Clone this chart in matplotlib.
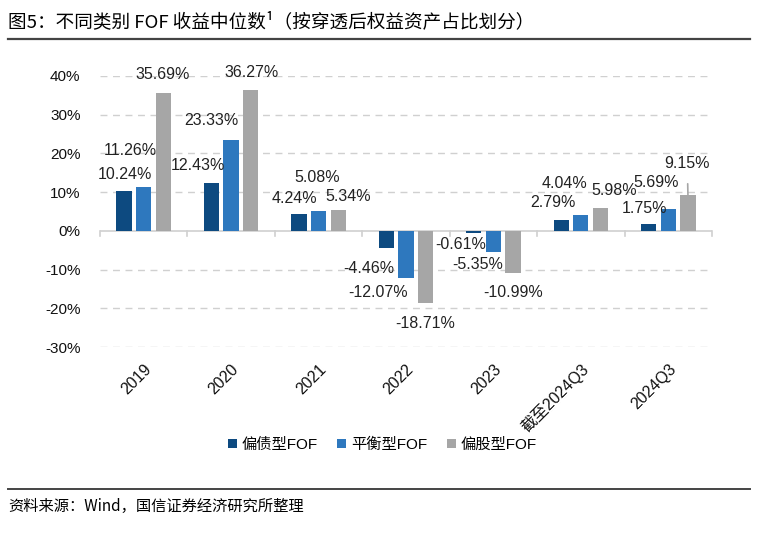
import matplotlib.pyplot as plt
import numpy as np
from matplotlib.lines import Line2D

plt.rcParams["font.family"] = ["Liberation Sans", "Noto Sans CJK SC"]

categories = ["2019", "2020", "2021", "2022", "2023", "截至2024Q3", "2024Q3"]
series_names = ["偏债型FOF", "平衡型FOF", "偏股型FOF"]
bond_fof = [10.24, 12.43, 4.24, -4.46, -0.61, 2.79, 1.75]
balanced_fof = [11.26, 23.33, 5.08, -12.07, -5.35, 4.04, 5.69]
equity_fof = [35.69, 36.27, 5.34, -18.71, -10.99, 5.98, 9.15]
colors = ["#0D4A80", "#2E78BE", "#A6A6A6"]

# label positions (x offset from group centre, y in %)
label_pos = {
    0: [(-0.217, 14.5), (-0.154, 20.7), (0.217, 40.3)],
    1: [(-0.378, 16.8), (-0.223, 28.4), (0.229, 40.8)],
    2: [(-0.281, 8.3), (-0.018, 13.7), (0.339, 8.8)],
    3: [(-0.423, -9.6), (-0.32, -15.8), (0.217, -23.8)],
    4: [(-0.378, -3.4), (-0.183, -8.8), (0.229, -15.8)],
    5: [(-0.32, 7.2), (-0.183, 12.1), (0.378, 10.3)],
    6: [(-0.275, 5.7), (-0.137, 12.4), (0.217, 17.3)],
}

fig = plt.figure(figsize=(7.66, 5.34), dpi=100)
ax = fig.add_axes([0.1305, 0.350, 0.799, 0.508])

x = np.arange(len(categories))
width = 0.175
step = 0.225
all_series = [bond_fof, balanced_fof, equity_fof]
for k, (vals, c, name) in enumerate(zip(all_series, colors, series_names)):
    ax.bar(x + (k - 1) * step, vals, width, color=c, label=name, zorder=3)

for i in range(len(categories)):
    for k, vals in enumerate(all_series):
        dx, ty = label_pos[i][k]
        bx = x[i] + (k - 1) * step
        if i == 6 and k == 2:
            ax.annotate(f"{vals[i]:.2f}%", xy=(bx, vals[i]), xytext=(x[i] + dx, ty),
                        ha="center", va="center", fontsize=11.5, color="#222222",
                        arrowprops=dict(arrowstyle="-", color="#A6A6A6", lw=1.2,
                                        shrinkA=7, shrinkB=0))
        else:
            ax.text(x[i] + dx, ty, f"{vals[i]:.2f}%", ha="center", va="center",
                    fontsize=11.5, color="#222222")

ax.set_xlim(-0.5, len(categories) - 0.5)
ax.set_ylim(-30, 40)
ax.set_yticks(np.arange(-30, 41, 10))
ax.set_yticklabels([f"{v}%" for v in range(-30, 41, 10)])
for v in range(-30, 41, 10):
    if v != 0:
        ax.axhline(v, color="#D0D0D0", lw=1, ls=(0, (5, 4)), zorder=1)
ax.axhline(0, color="#D0D0D0", lw=1.2, zorder=2)
for b in np.arange(-0.5, len(categories), 1.0):
    ax.plot([b, b], [0, -1.3], color="#D0D0D0", lw=1.2, clip_on=False, zorder=2)

for s in ax.spines.values():
    s.set_visible(False)
ax.tick_params(axis="y", length=0, labelsize=11, pad=14, labelcolor="#111111")
ax.tick_params(axis="x", length=0, labelsize=11.5, labelcolor="#111111")
ax.set_xticks(x)
ax.set_xticklabels(categories, rotation=45, ha="right", rotation_mode="anchor")
for lbl in ax.get_xticklabels():
    lbl.set_y(-0.035)

fig.legend(loc="center", bbox_to_anchor=(0.499, 0.167), ncol=3, frameon=False,
           fontsize=11, handlelength=0.6, handleheight=0.6, handletextpad=0.3,
           columnspacing=1.3)

fig.text(0.011, 0.959, "图5：不同类别 FOF 收益中位数¹（按穿透后权益资产占比划分）",
         fontsize=13.4, va="center", ha="left", family=["Noto Sans CJK SC", "DejaVu Sans"])
fig.add_artist(Line2D([0.0104, 0.979], [0.927, 0.927], color="#444444", lw=1.6))
fig.add_artist(Line2D([0.0104, 0.979], [0.0843, 0.0843], color="#444444", lw=1.4))
fig.text(0.011, 0.051, "资料来源：Wind，国信证券经济研究所整理", fontsize=11,
         va="center", ha="left", family=["Noto Sans CJK SC", "DejaVu Sans"])

fig.savefig("out.png", dpi=100)
